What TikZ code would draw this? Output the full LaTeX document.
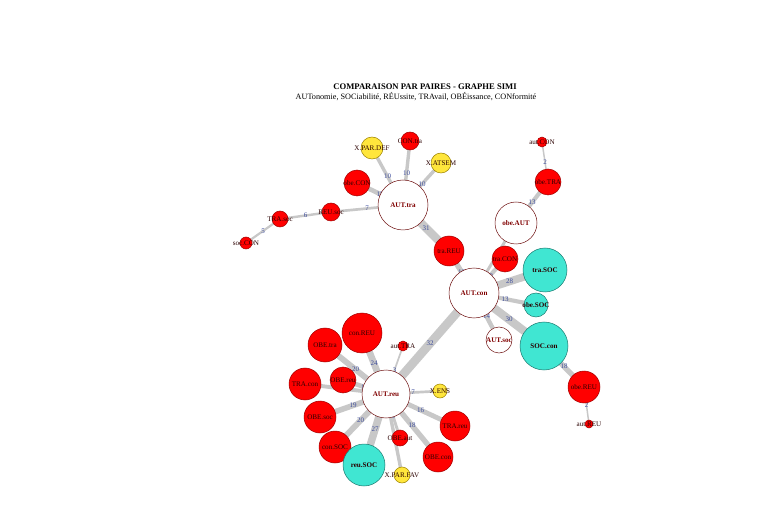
\documentclass[tikz,border=0pt]{standalone}
\usepackage{fontspec}
\setmainfont{Liberation Serif}
\usetikzlibrary{backgrounds}
\definecolor{nred}{HTML}{FF0000}
\definecolor{nredb}{HTML}{A00000}
\definecolor{ncyan}{HTML}{40E6D2}
\definecolor{ncyanb}{HTML}{1C7A70}
\definecolor{nyel}{HTML}{FFE63C}
\definecolor{nyelb}{HTML}{9A8000}
\definecolor{nwhb}{HTML}{6E1010}
\definecolor{edgec}{HTML}{C8C8C8}
\definecolor{elabc}{HTML}{3C4C9C}
\definecolor{labd}{HTML}{2A0000}
\definecolor{labr}{HTML}{800000}
\tikzset{
  x=1pt, y=-1pt,
  vbase/.style={circle, inner sep=0pt, outer sep=0pt, line width=0.5pt},
  rn/.style={vbase, fill=nred, draw=nredb},
  cn/.style={vbase, fill=ncyan, draw=ncyanb},
  yn/.style={vbase, fill=nyel, draw=nyelb},
  wn/.style={vbase, fill=white, draw=nwhb},
  lab/.style={inner sep=0pt, text=labd, font=\fontsize{7.1}{8}\selectfont},
  labb/.style={inner sep=0pt, text=labr, font=\fontsize{7.1}{8}\selectfont\bfseries},
  labc/.style={inner sep=0pt, text=labd, font=\fontsize{7.1}{8}\selectfont\bfseries},
  edgeln/.style={draw=edgec},
  elab/.style={midway, inner sep=0pt, text=elabc, font=\fontsize{7}{8}\selectfont},
}
\newcommand\vx[6]{\node[#1, minimum size={2*#4}] (#2) at (#3) {}; \node[#5] at (#2.center) {#6};}
\newcommand\ed[4]{\draw[edgeln, line width={1+0.24*#3}] (#1.center) -- (#2.center) node[elab] {#4};}
\begin{document}
\begin{tikzpicture}
\useasboundingbox (0,0) rectangle (765,510);
\node[inner sep=0pt, font=\fontsize{8.6}{9}\selectfont\bfseries] (title) at (425,87) {COMPARAISON PAR PAIRES - GRAPHE SIMI};
\node[inner sep=0pt, font=\fontsize{8.2}{9}\selectfont] (subtitle) at (416,96.5) {AUTonomie, SOCiabilité, RÉUssite, TRAvail, OBÉissance, CONformité};

% vertices
\vx{wn}{AUTtra}{403,205}{25}{labb}{AUT.tra}
\vx{yn}{XPARDEF}{372,148}{11}{lab}{X.PAR.DEF}
\vx{rn}{CONtra}{410,141}{9}{lab}{CON.tra}
\vx{yn}{XATSEM}{441,163}{10}{lab}{X.ATSEM}
\vx{rn}{obeCON}{357,183}{13}{lab}{obe.CON}
\vx{rn}{REUsoc}{331,212}{9}{lab}{REU.soc}
\vx{rn}{TRAsoc}{280,219}{8}{lab}{TRA.soc}
\vx{rn}{socCON}{246,243}{6}{lab}{soc.CON}
\vx{rn}{traREU}{449,251}{15}{lab}{tra.REU}
\vx{rn}{traCON}{505,259}{13}{lab}{tra.CON}
\vx{wn}{obeAUT}{516,223}{21}{labb}{obe.AUT}
\vx{rn}{obeTRA}{548,182}{13}{lab}{obe.TRA}
\vx{rn}{autCON}{542,142}{5}{lab}{aut.CON}
\vx{wn}{AUTcon}{474,293}{25}{labb}{AUT.con}
\vx{cn}{traSOC}{545,270}{22}{labc}{tra.SOC}
\vx{cn}{obeSOC}{536,305}{12}{labc}{obe.SOC}
\vx{cn}{SOCcon}{544,346}{24}{labc}{SOC.con}
\vx{wn}{AUTsoc}{499,340}{13}{labb}{AUT.soc}
\vx{rn}{obeREU}{584,387}{16}{lab}{obe.REU}
\vx{rn}{autREU}{589,424}{4}{lab}{aut.REU}
\vx{wn}{AUTreu}{386,394}{24}{labb}{AUT.reu}
\vx{rn}{conREU}{362,333}{20}{lab}{con.REU}
\vx{rn}{OBEtra}{325,345}{17}{lab}{OBE.tra}
\vx{rn}{autTRA}{403,346}{5}{lab}{aut.TRA}
\vx{rn}{TRAcon}{305,384}{16}{lab}{TRA.con}
\vx{rn}{OBEreu}{343,380}{13}{lab}{OBE.reu}
\vx{yn}{XENS}{440,391}{7}{lab}{X.ENS}
\vx{rn}{OBEsoc}{320,417}{16}{lab}{OBE.soc}
\vx{rn}{conSOC}{335,447}{16}{lab}{con.SOC}
\vx{cn}{reuSOC}{364,465}{21}{labc}{reu.SOC}
\vx{rn}{OBEaut}{400,438}{8}{lab}{OBE.aut}
\vx{yn}{XPARFAV}{402,475}{8}{lab}{X.PAR.FAV}
\vx{rn}{OBEcon}{438,457}{15}{lab}{OBE.con}
\vx{rn}{TRAreu}{455,426}{15}{lab}{TRA.reu}

% edges
\begin{pgfonlayer}{background}
\ed{AUTtra}{XPARDEF}{10}{10}
\ed{AUTtra}{CONtra}{10}{10}
\ed{AUTtra}{XATSEM}{10}{10}
\ed{AUTtra}{obeCON}{15}{15}
\ed{AUTtra}{REUsoc}{7}{7}
\ed{REUsoc}{TRAsoc}{6}{6}
\ed{TRAsoc}{socCON}{5}{5}
\ed{AUTtra}{traREU}{31}{31}
\ed{traREU}{AUTcon}{18}{18}
\ed{AUTcon}{traCON}{13}{13}
\ed{AUTcon}{obeAUT}{8}{}
\ed{obeAUT}{obeTRA}{13}{13}
\ed{obeTRA}{autCON}{2}{2}
\ed{AUTcon}{traSOC}{28}{28}
\ed{AUTcon}{obeSOC}{13}{13}
\ed{AUTcon}{SOCcon}{30}{30}
\ed{AUTcon}{AUTsoc}{14}{14}
\ed{SOCcon}{obeREU}{18}{18}
\ed{obeREU}{autREU}{2}{2}
\ed{AUTcon}{AUTreu}{32}{32}
\ed{AUTreu}{conREU}{24}{24}
\ed{AUTreu}{OBEtra}{20}{20}
\ed{AUTreu}{autTRA}{3}{3}
\ed{AUTreu}{OBEreu}{15}{15}
\ed{AUTreu}{TRAcon}{12}{}
\ed{AUTreu}{XENS}{7}{7}
\ed{AUTreu}{TRAreu}{16}{16}
\ed{AUTreu}{OBEcon}{18}{18}
\ed{AUTreu}{OBEaut}{8}{8}
\ed{AUTreu}{XPARFAV}{10}{}
\ed{AUTreu}{reuSOC}{27}{27}
\ed{AUTreu}{conSOC}{20}{20}
\ed{AUTreu}{OBEsoc}{19}{19}
\end{pgfonlayer}
\end{tikzpicture}
\end{document}
